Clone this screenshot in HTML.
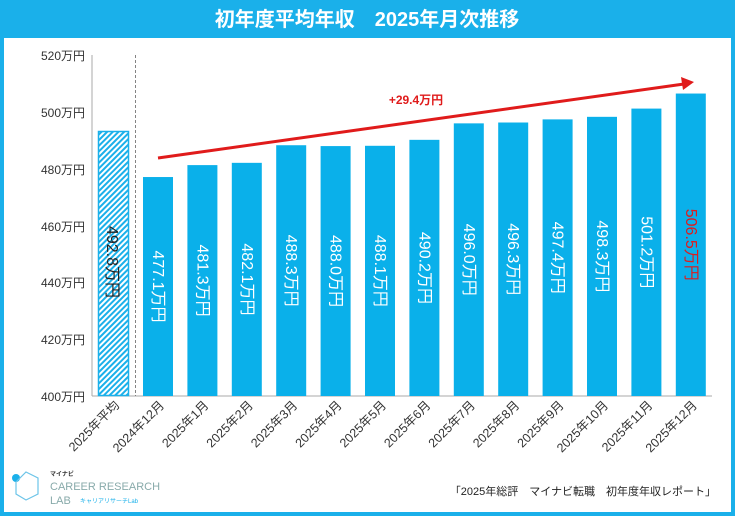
<!DOCTYPE html>
<html><head><meta charset="utf-8"><style>
html,body{margin:0;padding:0;background:#fff}
svg{display:block}
text{font-family:"Liberation Sans","Noto Sans CJK JP",sans-serif}
</style></head><body>
<svg width="735" height="516" viewBox="0 0 735 516" xmlns="http://www.w3.org/2000/svg">
<defs>
<pattern id="h" patternUnits="userSpaceOnUse" width="4" height="4" patternTransform="rotate(45)">
<rect width="4" height="4" fill="#fff"/><rect width="2" height="4" fill="#1ab0ea"/>
</pattern>
</defs>
<rect x="2" y="2" width="731" height="512" fill="#fff" stroke="#1ab0ea" stroke-width="4"/>
<rect x="0" y="0" width="735" height="38" fill="#1ab0ea"/>
<text x="367" y="26" text-anchor="middle" font-size="20" font-weight="bold" fill="#fff">初年度平均年収　2025年月次推移</text>
<g font-size="12" fill="#333" text-anchor="end">
<text x="85" y="60">520万円</text>
<text x="85" y="117">500万円</text>
<text x="85" y="174">480万円</text>
<text x="85" y="231">460万円</text>
<text x="85" y="287">440万円</text>
<text x="85" y="344">420万円</text>
<text x="85" y="401">400万円</text>
</g>
<line x1="92" y1="55" x2="92" y2="396" stroke="#aaa" stroke-width="1"/>
<line x1="92" y1="396" x2="712" y2="396" stroke="#aaa" stroke-width="1"/>
<line x1="135.5" y1="55" x2="135.5" y2="396" stroke="#666" stroke-width="0.8" stroke-dasharray="3,2"/>
<rect x="98.5" y="131.5" width="30" height="264" fill="url(#h)" stroke="#1ab0ea" stroke-width="1.5"/>
<text transform="translate(107,262) rotate(90)" text-anchor="middle" font-size="16" fill="#222">492.8万円</text>
<g id="bars" fill="#0ab0ea"></g>
<g font-size="16" fill="#fff" text-anchor="middle" id="lbl"></g>
<g font-size="12.5" fill="#333" text-anchor="end" id="xl"></g>
<line x1="158" y1="158" x2="684" y2="84" stroke="#e01b1b" stroke-width="3"/>
<polygon points="694,82 681,77 683,90" fill="#e01b1b"/>
<text x="416" y="104" text-anchor="middle" font-size="12" font-weight="bold" fill="#e01b1b">+29.4万円</text>
<g transform="translate(10,468)">
<circle cx="6" cy="10" r="4" fill="#1ab0ea"/>
<polygon points="16,4 28,10 28,26 16,32 6,26 6,14" fill="none" stroke="#6cc4e8" stroke-width="1.2"/>
<text x="40" y="8" font-size="6" font-weight="bold" fill="#333">マイナビ</text>
<text x="40" y="22" font-size="11" fill="#8aa">CAREER RESEARCH</text>
<text x="40" y="36" font-size="11" fill="#8aa">LAB</text>
<text x="70" y="35" font-size="6" fill="#1ab0ea">キャリアリサーチLab</text>
</g>
<text x="716" y="495" text-anchor="end" font-size="11" fill="#222">「2025年総評　マイナビ転職　初年度年収レポート」</text>
</svg>
<script>
var v=[477.1,481.3,482.1,488.3,488.0,488.1,490.2,496.0,496.3,497.4,498.3,501.2,506.5];
var names=["2024年12月","2025年1月","2025年2月","2025年3月","2025年4月","2025年5月","2025年6月","2025年7月","2025年8月","2025年9月","2025年10月","2025年11月","2025年12月"];
var ns="http://www.w3.org/2000/svg",b=document.getElementById("bars"),l=document.getElementById("lbl"),xl=document.getElementById("xl");
function mk(t,a,p,txt){var e=document.createElementNS(ns,t);for(var k in a)e.setAttribute(k,a[k]);if(txt)e.textContent=txt;p.appendChild(e);}
for(var i=0;i<13;i++){var x=143+i*44.4,y=396-(v[i]-400)*2.84;
mk("rect",{x:x,y:y,width:30,height:396-y},b);
var cy=(y+396)/2;
mk("text",{transform:"translate("+(x+10)+","+cy+") rotate(90)",fill:i==12?"#e01b1b":"#fff"},l,v[i].toFixed(1)+"万円");
mk("text",{transform:"translate("+(x+22)+",406) rotate(-45)"},xl,names[i]);}
mk("text",{transform:"translate(120,406) rotate(-45)"},xl,"2025年平均");
</script>
</body></html>
